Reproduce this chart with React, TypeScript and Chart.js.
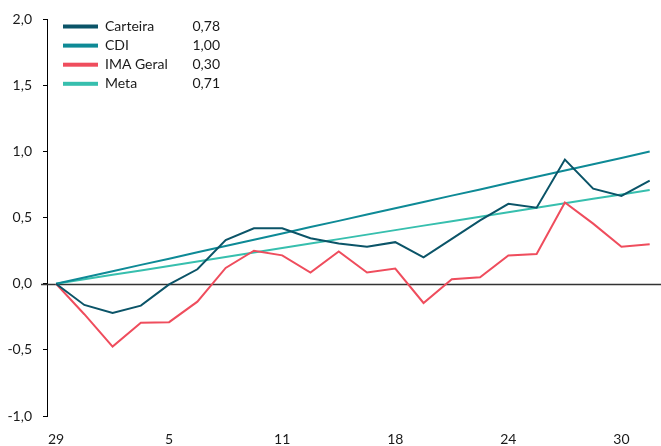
import React, { useEffect, useRef } from 'react';
import { Chart, registerables } from 'chart.js';

Chart.register(...registerables);

const categories = ['29', '2', '3', '4', '5', '6', '9', '10', '11', '13', '16', '17', '18', '19', '20', '23', '24', '25', '26', '27', '30', '31'];
const tickIndices = [0, 4, 8, 12, 16, 20];
const yTicks = [-1, -0.5, 0, 0.5, 1, 1.5, 2];

const carteira = [0, -0.16, -0.22, -0.165, -0.005, 0.11, 0.33, 0.42, 0.42, 0.345, 0.305, 0.28, 0.315, 0.2, 0.34, 0.48, 0.605, 0.575, 0.94, 0.72, 0.665, 0.78];
const cdi = [0, 0.048, 0.095, 0.143, 0.19, 0.238, 0.286, 0.333, 0.381, 0.429, 0.476, 0.524, 0.571, 0.619, 0.667, 0.714, 0.762, 0.81, 0.857, 0.905, 0.952, 1.0];
const imaGeral = [0, -0.23, -0.475, -0.295, -0.29, -0.135, 0.12, 0.25, 0.215, 0.085, 0.245, 0.085, 0.115, -0.145, 0.035, 0.05, 0.215, 0.225, 0.615, 0.455, 0.28, 0.3];
const meta = [0, 0.034, 0.068, 0.101, 0.135, 0.169, 0.203, 0.237, 0.27, 0.304, 0.338, 0.372, 0.406, 0.44, 0.473, 0.507, 0.541, 0.575, 0.609, 0.643, 0.676, 0.71];

const seriesNames = ['Carteira', 'CDI', 'IMA Geral', 'Meta'];
const seriesValues = [carteira, cdi, imaGeral, meta];
const seriesColors = ['#0b5468', '#0e8a96', '#ef4d5d', '#37bfae'];

const FONT = 'Lato, "Noto Sans", sans-serif';

const fmt = (v: number, d: number) => v.toFixed(d).replace('.', ',');

export default function App() {
  const ref = useRef<HTMLCanvasElement | null>(null);

  useEffect(() => {
    document.body.style.margin = '0';
    const canvas = ref.current;
    if (!canvas) return;

    const zeroLine = {
      id: 'zeroLine',
      beforeDatasetsDraw(chart: any) {
        const y = chart.scales.y.getPixelForValue(0);
        const ctx = chart.ctx;
        ctx.save();
        ctx.strokeStyle = '#333333';
        ctx.lineWidth = 1.3;
        ctx.beginPath();
        ctx.moveTo(chart.chartArea.left - 6, Math.round(y) + 0.5);
        ctx.lineTo(chart.chartArea.right, Math.round(y) + 0.5);
        ctx.stroke();
        ctx.restore();
      },
    };

    const legendPlugin = {
      id: 'customLegend',
      afterDraw(chart: any) {
        const ctx = chart.ctx;
        ctx.save();
        ctx.font = `14px ${FONT}`;
        ctx.textBaseline = 'middle';
        seriesNames.forEach((name, i) => {
          const y = 26.5 + i * 19.1;
          ctx.fillStyle = seriesColors[i];
          ctx.fillRect(63, y - 2, 35, 4);
          ctx.fillStyle = '#1a1a1a';
          ctx.textAlign = 'left';
          ctx.fillText(name, 105, y);
          ctx.textAlign = 'right';
          const vals = seriesValues[i];
          ctx.fillText(fmt(vals[vals.length - 1], 2), 220, y);
        });
        ctx.restore();
      },
    };

    const chart = new Chart(canvas, {
      type: 'line',
      data: {
        datasets: seriesNames.map((name, i) => ({
          label: name,
          data: seriesValues[i].map((v, idx) => ({ x: idx, y: v })),
          borderColor: seriesColors[i],
          backgroundColor: seriesColors[i],
          borderWidth: 2,
          pointRadius: 0,
          tension: 0,
          fill: false,
        })),
      },
      options: {
        animation: false,
        responsive: true,
        maintainAspectRatio: false,
        layout: { padding: { top: 19, right: 0, left: 0, bottom: 0 } },
        plugins: {
          legend: { display: false },
          tooltip: { enabled: false },
        },
        scales: {
          x: {
            type: 'linear',
            min: -0.32,
            max: 21.4,
            afterBuildTicks: (scale: any) => {
              scale.ticks = tickIndices.map((v) => ({ value: v }));
            },
            afterFit: (scale: any) => {
              scale.height = 30;
            },
            grid: { display: false, drawTicks: false },
            border: { display: false },
            ticks: {
              autoSkip: false,
              maxRotation: 0,
              padding: 15,
              color: '#1a1a1a',
              font: { family: FONT, size: 14 },
              callback: (v: any) => categories[Number(v)] ?? '',
            },
          },
          y: {
            min: -1,
            max: 2,
            afterBuildTicks: (scale: any) => {
              scale.ticks = yTicks.map((v) => ({ value: v }));
            },
            afterFit: (scale: any) => {
              scale.width = 47;
            },
            grid: {
              display: true,
              drawOnChartArea: false,
              drawTicks: true,
              tickLength: 4,
              tickColor: '#000000',
              lineWidth: 1,
            },
            border: { display: true, color: '#000000', width: 1 },
            ticks: {
              padding: 11,
              color: '#1a1a1a',
              font: { family: FONT, size: 14 },
              callback: (v: any) => fmt(Number(v), 1),
            },
          },
        },
      },
      plugins: [zeroLine, legendPlugin],
    });

    return () => chart.destroy();
  }, []);

  return (
    <div style={{ width: 661, height: 446, position: 'relative' }}>
      <canvas ref={ref} />
    </div>
  );
}
